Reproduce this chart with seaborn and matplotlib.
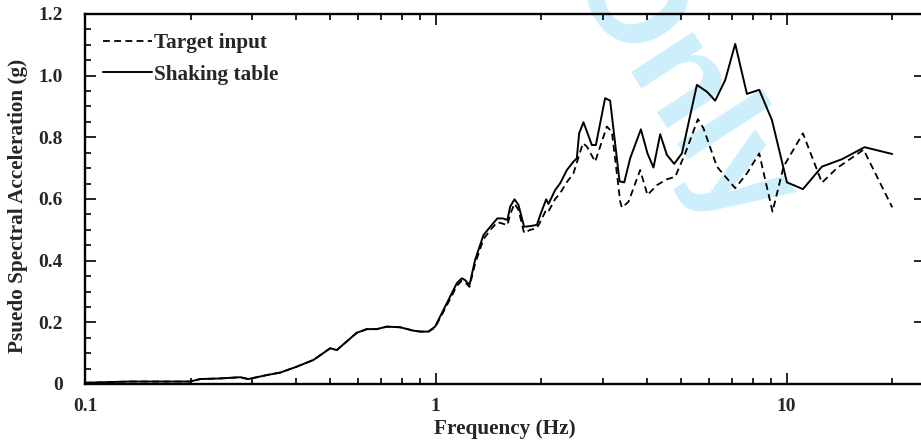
import numpy as np
import pandas as pd
import matplotlib
matplotlib.use("Agg")
import matplotlib.pyplot as plt
from matplotlib.ticker import LogLocator, MultipleLocator, FuncFormatter, NullFormatter
import seaborn as sns

# Shaking table response spectrum (Hz, g)
table_freq = [0.100, 0.134, 0.199, 0.213, 0.243, 0.277, 0.292, 0.330, 0.360, 0.401,
              0.448, 0.500, 0.522, 0.595, 0.636, 0.679, 0.725, 0.791, 0.863, 0.902,
              0.953, 0.995, 1.075, 1.148, 1.186, 1.212, 1.247, 1.294, 1.367, 1.444,
              1.498, 1.552, 1.600, 1.629, 1.676, 1.720, 1.785, 1.857, 1.941, 1.993,
              2.064, 2.095, 2.189, 2.262, 2.364, 2.468, 2.523, 2.562, 2.636, 2.785,
              2.859, 3.038, 3.140, 3.340, 3.444, 3.581, 3.842, 4.012, 4.173, 4.361,
              4.557, 4.781, 5.029, 5.549, 5.925, 6.258, 6.683, 7.136, 7.705, 8.355,
              9.082, 10.02, 11.13, 12.61, 14.38, 16.68, 20.0]
table_psa = [0.004, 0.008, 0.008, 0.016, 0.018, 0.022, 0.016, 0.029, 0.037, 0.056,
             0.078, 0.116, 0.110, 0.166, 0.178, 0.178, 0.186, 0.184, 0.173, 0.170,
             0.170, 0.186, 0.262, 0.327, 0.343, 0.337, 0.321, 0.402, 0.483, 0.516,
             0.537, 0.537, 0.532, 0.575, 0.599, 0.581, 0.510, 0.512, 0.516, 0.554,
             0.599, 0.584, 0.629, 0.651, 0.694, 0.721, 0.732, 0.813, 0.849, 0.775,
             0.775, 0.927, 0.919, 0.657, 0.654, 0.732, 0.826, 0.748, 0.702, 0.810,
             0.743, 0.714, 0.748, 0.970, 0.948, 0.919, 0.986, 1.103, 0.941, 0.954,
             0.856, 0.654, 0.632, 0.705, 0.729, 0.768, 0.746]

# Target input spectrum (Hz, g)
target_freq = [0.100, 0.134, 0.199, 0.213, 0.243, 0.277, 0.292, 0.330, 0.360, 0.401,
               0.448, 0.500, 0.522, 0.595, 0.636, 0.679, 0.725, 0.791, 0.863, 0.902,
               0.953, 0.995, 1.075, 1.148, 1.186, 1.212, 1.247, 1.294, 1.367, 1.444,
               1.498, 1.552, 1.600, 1.629, 1.676, 1.720, 1.785, 1.857, 1.941, 1.993,
               2.064, 2.095, 2.189, 2.262, 2.364, 2.468, 2.626, 2.696, 2.846, 3.073,
               3.176, 3.355, 3.393, 3.542, 3.824, 4.012, 4.268, 4.557, 4.812, 5.140,
               5.586, 5.796, 6.328, 7.136, 7.705, 8.355, 8.690, 9.117, 9.800, 11.13,
               12.61, 13.91, 16.57, 20.0]
target_psa = [0.004, 0.008, 0.008, 0.016, 0.018, 0.022, 0.016, 0.029, 0.037, 0.056,
              0.078, 0.116, 0.110, 0.166, 0.178, 0.178, 0.186, 0.184, 0.173, 0.170,
              0.170, 0.183, 0.255, 0.318, 0.335, 0.330, 0.315, 0.390, 0.470, 0.505,
              0.525, 0.520, 0.515, 0.550, 0.585, 0.565, 0.490, 0.500, 0.505, 0.530,
              0.565, 0.560, 0.600, 0.619, 0.655, 0.683, 0.781, 0.770, 0.721, 0.835,
              0.818, 0.591, 0.572, 0.591, 0.694, 0.613, 0.645, 0.664, 0.672, 0.748,
              0.859, 0.829, 0.705, 0.635, 0.683, 0.748, 0.662, 0.559, 0.705, 0.813,
              0.653, 0.700, 0.760, 0.573]

series_names = ["Target input", "Shaking table"]
y_ticks = [0, 0.2, 0.4, 0.6, 0.8, 1.0, 1.2]

sns.set_theme(style="ticks")
plt.rcParams["font.family"] = ["Liberation Serif", "DejaVu Serif"]
plt.rcParams["font.weight"] = "bold"
plt.rcParams["axes.labelweight"] = "bold"

fs_tick = 14
fs_label = 15.3
fig = plt.figure(figsize=(9.21, 4.43), dpi=100)
fig.patch.set_facecolor("white")

ax = fig.add_axes([85 / 921, 59 / 443, 840 / 921, 370 / 443])
ax.set_facecolor("none")

# faint diagonal review watermark, kept underneath the curves
ax.text(678 / 921, 1 - 88 / 443, "Only", transform=fig.transFigure, rotation=-57,
        ha="center", va="center", fontsize=100, fontweight="bold",
        family=["Liberation Sans", "DejaVu Sans"], color="#cdeefb",
        zorder=0.5, clip_on=False)

target_df = pd.DataFrame({"freq": target_freq, "psa": target_psa})
table_df = pd.DataFrame({"freq": table_freq, "psa": table_psa})

sns.lineplot(data=target_df, x="freq", y="psa", ax=ax, color="black", lw=1.3,
             estimator=None, sort=False, label=series_names[0],
             linestyle=(0, (3.8, 2.4)), zorder=3)
sns.lineplot(data=table_df, x="freq", y="psa", ax=ax, color="black", lw=1.4,
             estimator=None, sort=False, label=series_names[1], zorder=3)

ax.set_xscale("log")
ax.set_xlim(0.1, 24.8)
ax.set_ylim(0, 1.2)

ax.xaxis.set_major_locator(LogLocator(base=10, numticks=10))
ax.xaxis.set_minor_locator(LogLocator(base=10, subs=np.arange(2, 10), numticks=20))
ax.xaxis.set_major_formatter(FuncFormatter(lambda v, p: f"{v:g}"))
ax.xaxis.set_minor_formatter(NullFormatter())
ax.yaxis.set_major_locator(plt.FixedLocator(y_ticks))
ax.yaxis.set_minor_locator(MultipleLocator(0.05))
ax.yaxis.set_major_formatter(FuncFormatter(lambda v, p: "0" if abs(v) < 1e-9 else f"{v:.1f}"))

for s in ax.spines.values():
    s.set_linewidth(1.7)
    s.set_color("black")
    s.set_zorder(4)

ax.tick_params(axis="both", which="both", direction="in", color="black", width=1.2)
ax.tick_params(axis="x", which="both", top=True, bottom=True)
ax.tick_params(axis="y", which="major", left=True, right=True)
ax.tick_params(axis="y", which="minor", left=True, right=False)
ax.tick_params(which="major", length=8)
ax.tick_params(which="minor", length=4.5)
ax.tick_params(axis="x", which="major", labelsize=fs_tick, pad=10)
ax.tick_params(axis="y", which="major", labelsize=fs_tick, pad=16)
for lab in ax.get_xticklabels() + ax.get_yticklabels():
    lab.set_fontweight("bold")

ax.set_xlabel("Frequency (Hz)", fontsize=fs_label, fontweight="bold")
ax.set_ylabel("Psuedo Spectral Acceleration (g)", fontsize=fs_label, fontweight="bold")
ax.xaxis.set_label_coords(0.5, -0.095)
ax.yaxis.set_label_coords(-0.068, 0.48)

leg = ax.legend(loc="upper left", bbox_to_anchor=(0.021, 0.948), frameon=False,
                fontsize=fs_label, handlelength=2.3, handletextpad=0.1, labelspacing=0.55,
                borderpad=0, borderaxespad=0)
for t in leg.get_texts():
    t.set_fontweight("bold")
for h in leg.get_lines():
    h.set_color("black")

fig.savefig("out.png", dpi=100, facecolor="white")
